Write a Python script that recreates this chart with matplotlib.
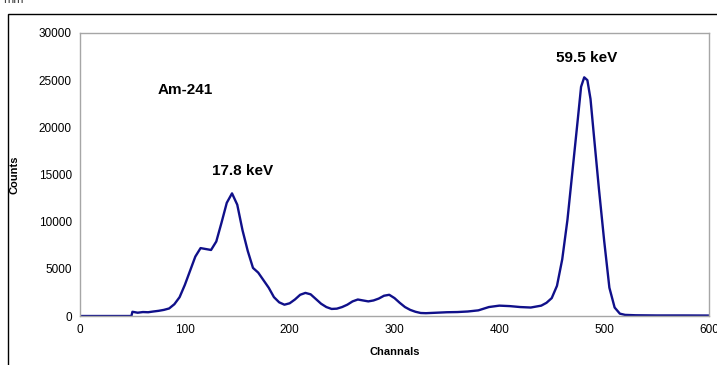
import matplotlib
matplotlib.use('Agg')
import matplotlib.pyplot as plt
from matplotlib.patches import Rectangle

plt.rcParams['font.family'] = ['Liberation Sans', 'DejaVu Sans']

# spectrum (channel, counts)
channels = [0, 49, 50, 55, 60, 65, 70, 75, 80, 85, 90, 95, 100, 105, 110, 115,
            120, 125, 130, 135, 140, 145, 150, 155, 160, 165, 170, 175, 180, 185,
            190, 195, 200, 205, 210, 215, 220, 225, 230, 235, 240, 245, 250, 255,
            260, 265, 270, 275, 280, 285, 290, 295, 300, 305, 310, 315, 320, 325,
            330, 340, 350, 360, 370, 380, 390, 400, 410, 420, 430, 440, 445, 450,
            455, 460, 465, 470, 475, 478, 481, 484, 487, 490, 495, 500, 505, 510,
            515, 520, 530, 550, 575, 600]
counts = [0, 0, 450, 350, 420, 400, 480, 550, 650, 800, 1250, 2000, 3300, 4800,
          6300, 7200, 7100, 7000, 7900, 9900, 12000, 13000, 11800, 9100, 6900,
          5100, 4600, 3800, 3000, 2000, 1450, 1200, 1350, 1750, 2250, 2450, 2300,
          1800, 1300, 950, 750, 780, 950, 1200, 1550, 1750, 1650, 1550, 1650,
          1850, 2150, 2250, 1900, 1400, 950, 650, 450, 320, 300, 350, 400, 420,
          480, 600, 950, 1100, 1050, 950, 900, 1100, 1400, 1900, 3200, 6000,
          10200, 15600, 21000, 24300, 25300, 25000, 23000, 19400, 13500, 8000,
          3000, 900, 250, 120, 80, 60, 60, 50]

labels = ['Am-241', '17.8 keV', '59.5 keV']
label_x = [100, 155, 483]
label_y = [24000, 15400, 27400]

fig = plt.figure(figsize=(7.17, 3.65), dpi=100)
ax = fig.add_axes([0.1116, 0.1342, 0.8772, 0.7754])

ax.plot(channels, counts, color='#10108a', linewidth=1.7)

for txt, x, y in zip(labels, label_x, label_y):
    ax.text(x, y, txt, ha='center', va='center', fontsize=11, fontweight='bold')

ax.set_xlim(0, 600)
ax.set_ylim(0, 30000)
ax.set_xticks(range(0, 601, 100))
ax.set_yticks(range(0, 30001, 5000))
ax.tick_params(length=0, labelsize=8.5, pad=6)
for s in ax.spines.values():
    s.set_color('#a6a6a6')
    s.set_linewidth(1)

ax.set_xlabel('Channals', fontsize=8, fontweight='bold', labelpad=8)
ax.set_ylabel('Counts', fontsize=8, fontweight='bold', labelpad=14)

# outer chart frame, running off the right and bottom of the picture
fig.patches.append(Rectangle((8 / 717, -0.1), 1.2, 0.1 + (1 - 14 / 365),
                             transform=fig.transFigure, fill=False,
                             edgecolor='black', linewidth=1))
fig.text(0.004, 1.0, 'mm', fontsize=9, va='center', ha='left', color='#444444')

fig.savefig('out.png', dpi=100)
